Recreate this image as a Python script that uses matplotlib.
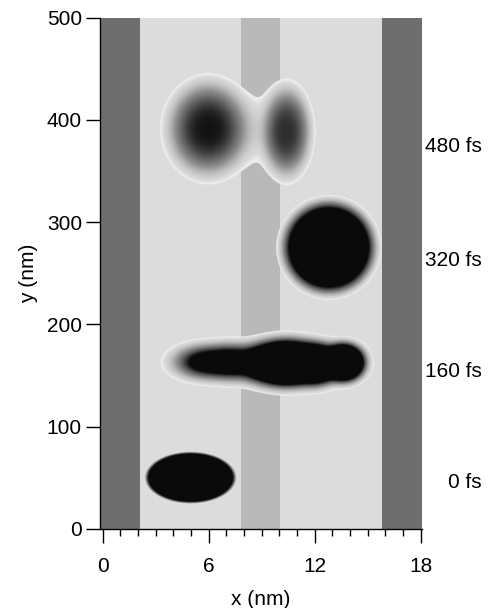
import numpy as np
import matplotlib
matplotlib.use("Agg")
import matplotlib.pyplot as plt
from matplotlib.colors import LinearSegmentedColormap, Normalize
from matplotlib.ticker import MultipleLocator

plt.rcParams['font.family'] = ['Liberation Sans', 'DejaVu Sans']

# time snapshots shown on the right, and the height they sit at (nm)
snapshots = ["480 fs", "320 fs", "160 fs", "0 fs"]
snapshot_y = [374, 263, 154, 45]

# layers across x (nm) and their grey level
layer_edges = [-0.15, 2.11, 7.83, 10.04, 15.79, 18.06]
layer_colors = ["#6e6e6e", "#dcdcdc", "#b9b9b9", "#dcdcdc", "#6e6e6e"]

# density field components: centre x, centre y, width x, width y, amplitude, exponent
comp_x = [4.97, 5.9, 7.3, 8.8, 10.4, 12.1, 13.6, 12.8, 5.96, 10.41, 8.55]
comp_y = [50, 163, 163, 162, 162, 161, 162.5, 275, 391, 388, 390]
comp_sx = [2.38, 1.3, 1.0, 1.0, 1.3, 0.8, 0.7, 2.1, 1.8, 1.1, 1.3]
comp_sy = [23.3, 11.5, 12, 12, 12.8, 12, 10.5, 36, 36, 35, 30]
comp_amp = [3, 1.8, 1.8, 1.8, 15, 8, 15, 4, 0.95, 0.8, 0.075]
comp_pow = [14, 2, 2, 2, 2, 2, 2, 4.5, 3, 3, 2]

thresh = 0.03

# build the density on a grid
gx = np.linspace(layer_edges[0], layer_edges[-1], 700)
gy = np.linspace(0, 500, 1100)
X, Y = np.meshgrid(gx, gy)
F = np.zeros_like(X)
for cx, cy, sx, sy, a, p in zip(comp_x, comp_y, comp_sx, comp_sy, comp_amp, comp_pow):
    q = np.sqrt(((X - cx) / sx) ** 2 + ((Y - cy) / sy) ** 2)
    F += a * np.exp(-q ** p)

cmap = LinearSegmentedColormap.from_list(
    "dens", [(0, "#f0f0f0"), (0.025, "#dadada"), (0.3, "#8c8c8c"), (1, "#0a0a0a")])
cmap = cmap.with_extremes(under=(0.94, 0.94, 0.94, 0), over="#0a0a0a")

fig = plt.figure(figsize=(4.9, 6.08), dpi=100)
ax = fig.add_axes([100 / 490, 1 - 529 / 608, 321.7 / 490, (529 - 17.7) / 608])

for i in range(len(layer_colors)):
    ax.axvspan(layer_edges[i], layer_edges[i + 1], color=layer_colors[i], lw=0, zorder=0)

ax.imshow(F, origin="lower", extent=(gx[0], gx[-1], 0, 500), aspect="auto",
          cmap=cmap, norm=Normalize(vmin=thresh, vmax=1), zorder=1)

ax.set_xlim(layer_edges[0], layer_edges[-1])
ax.set_ylim(0, 500)
ax.set_xticks([0, 6, 12, 18])
ax.xaxis.set_minor_locator(MultipleLocator(1))
ax.set_yticks(range(0, 501, 100))
ax.tick_params(axis="both", which="major", length=10, width=1, direction="out", labelsize=15)
ax.tick_params(axis="x", which="minor", length=5, width=1, direction="out")
ax.tick_params(axis="y", pad=3)
ax.tick_params(axis="x", pad=10)
ax.spines["top"].set_visible(False)
ax.spines["right"].set_visible(False)
for s in ("left", "bottom"):
    ax.spines[s].set_linewidth(1)

ax.set_xlabel("x (nm)", fontsize=15, labelpad=10)
ax.set_ylabel("y (nm)", fontsize=15, labelpad=6)

for lab, yy in zip(snapshots, snapshot_y):
    ax.text(1.1875, yy, lab, transform=ax.get_yaxis_transform(), ha="right", va="center",
            fontsize=15, clip_on=False)

fig.savefig("out.png", dpi=100)
